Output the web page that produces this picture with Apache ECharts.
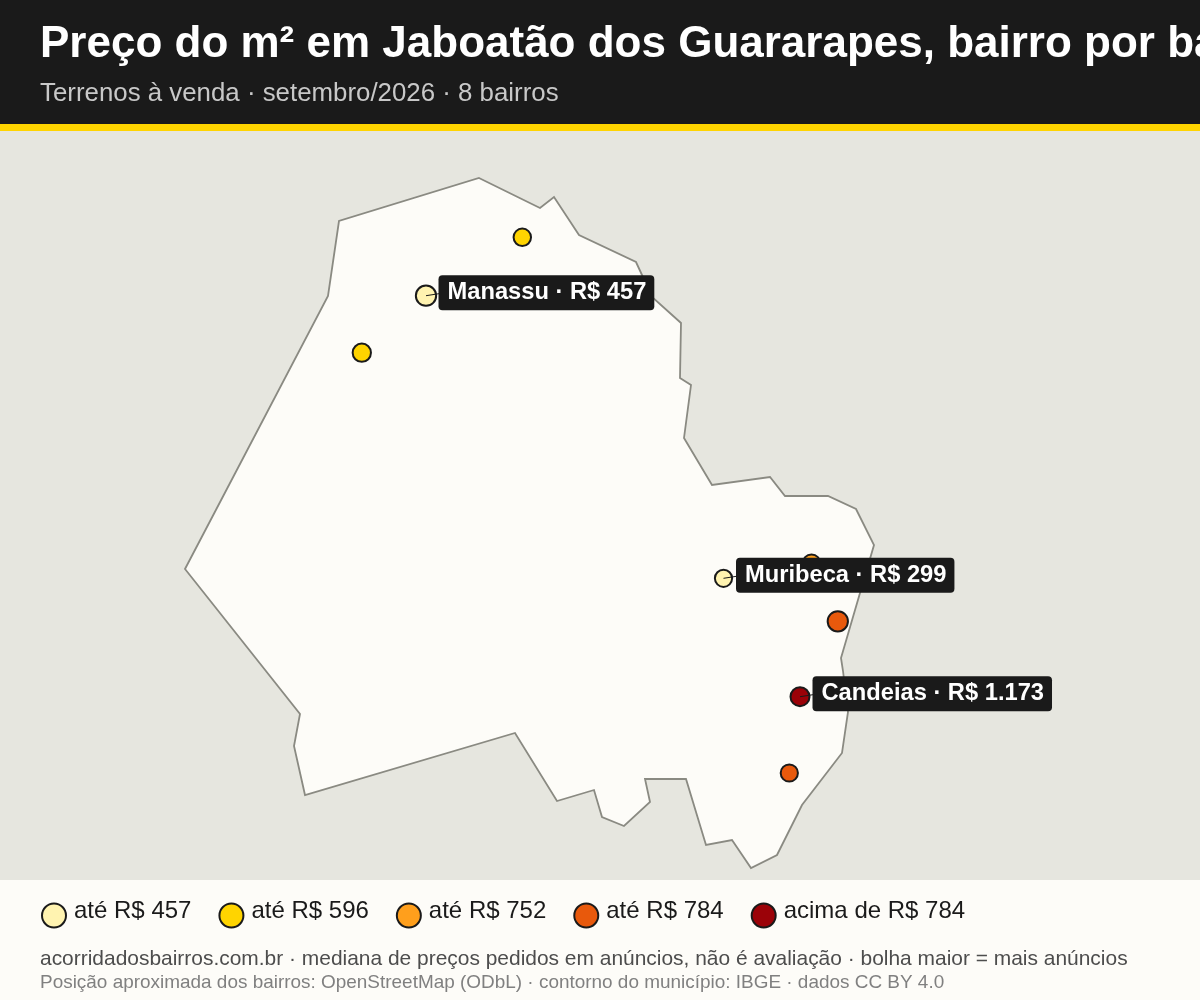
<!DOCTYPE html>
<html lang="pt-BR">

<head>
    <meta charset="UTF-8">
    <title>Preço do m² em Jaboatão dos Guararapes</title>
    <script src="https://cdn.jsdelivr.net/npm/echarts@6/dist/echarts.min.js"></script>
    <style>
        * {
            margin: 0;
            padding: 0;
        }

        #chart {
            width: 1200px;
            height: 1000px;
        }
    </style>
</head>

<body>
    <div id="chart"></div>
</body>
<script>
    // unidades do mapa: x para a direita, y para baixo
    var contornoX = [479, 540, 554, 579, 636, 642, 652, 681, 680, 691, 684, 712, 770, 785, 828, 856, 874, 841, 843, 848, 842, 802, 777, 751, 732, 706, 686, 645, 650, 624, 602, 594, 557, 515, 305, 294, 300, 185, 328, 339];
    var contornoY = [47, 77, 66, 104, 131, 144, 166, 192, 247, 254, 307, 354, 346, 365, 365, 378, 414, 527, 540, 581, 622, 674, 724, 737, 709, 714, 648, 648, 671, 695, 686, 659, 670, 602, 664, 615, 583, 438, 165, 90];

    var classes = ["até R$ 457", "até R$ 596", "até R$ 752", "até R$ 784", "acima de R$ 784"];
    var cores = ["#fff3b0", "#ffd400", "#ff9f1c", "#e8590c", "#9b0208"];

    // bairros de cada faixa; sem nome = sem rótulo na imagem
    var nomes = [["Manassu", "Muribeca"], ["", ""], [""], ["", ""], ["Candeias"]];
    var precos = [[457, 299], [null, null], [null], [null, null], [1173]];
    var bairroX = [[426, 723.5], [522.3, 361.8], [811.5], [837.8, 789.3], [800]];
    var bairroY = [[164.7, 447.3], [106.3, 221.7], [432.5], [490.3, 642], [565.7]];
    // anúncios estimados pelo tamanho da bolha
    var anuncios = [[28, 5], [6, 11], [9], [28, 5], [16]];

    function formataPreco(v) {
        return "R$ " + String(v).replace(/\B(?=(\d{3})+$)/g, ".");
    }

    function raio(n) {
        return 15 + Math.sqrt(n);
    }

    var myChart = echarts.init(document.getElementById("chart"), null, { renderer: "canvas" });

    var series = [{
        // contorno do município
        type: "custom",
        silent: true,
        z: 1,
        clip: false,
        data: [[0, 0]],
        renderItem: function (params, api) {
            var pontos = contornoX.map(function (x, i) {
                return api.coord([x, contornoY[i]]);
            });
            return {
                type: "polygon",
                shape: { points: pontos },
                style: { fill: "#fdfcf8", stroke: "#8a8a82", lineWidth: 1.8 }
            };
        }
    }];

    var comRotulo = [];
    classes.forEach(function (nome, c) {
        var dados = bairroX[c].map(function (x, i) {
            var item = { value: [x, bairroY[c][i]], symbolSize: raio(anuncios[c][i]) };
            if (nomes[c][i]) {
                comRotulo.push([x, bairroY[c][i]]);
                item.label = {
                    show: true,
                    position: "right",
                    distance: 11.5 - item.symbolSize / 2,
                    offset: [0, -3],
                    formatter: nomes[c][i] + " · " + formataPreco(precos[c][i]),
                    color: "#ffffff",
                    fontFamily: "Liberation Sans",
                    fontWeight: "bold",
                    fontSize: 23.7,
                    lineHeight: 23,
                    backgroundColor: "#1a1a1a",
                    borderRadius: 4,
                    padding: [2, 8, 10, 9]
                };
            }
            return item;
        });
        series.push({
            name: nome,
            type: "scatter",
            // faixas com rótulo por cima das outras
            z: nomes[c][0] ? 5 : 3,
            silent: true,
            itemStyle: { color: cores[c], borderColor: "#1a1a1a", borderWidth: 2, opacity: 1 },
            data: dados
        });
    });

    // fio do centro da bolha até o rótulo
    series.push({
        type: "custom",
        silent: true,
        z: 6,
        data: comRotulo,
        renderItem: function (params, api) {
            var p = api.coord([api.value(0), api.value(1)]);
            return {
                type: "line",
                shape: { x1: p[0], y1: p[1], x2: p[0] + 13, y2: p[1] - 2 },
                style: { stroke: "#1a1a1a", lineWidth: 1 }
            };
        }
    });

    var option = {
        animation: false,
        backgroundColor: "#fdfcf8",
        textStyle: { fontFamily: "Liberation Sans" },
        grid: { left: 0, right: 0, top: 131, height: 749, show: true, backgroundColor: "#e6e6df", borderWidth: 0 },
        xAxis: { type: "value", min: 0, max: 1200, show: false },
        yAxis: { type: "value", min: 0, max: 749, inverse: true, show: false },
        graphic: [
            { type: "rect", z: 0, shape: { x: 0, y: 0, width: 1200, height: 124 }, style: { fill: "#1a1a1a" } },
            { type: "rect", z: 0, shape: { x: 0, y: 124, width: 1200, height: 7 }, style: { fill: "#ffd400" } }
        ],
        title: [
            {
                text: "Preço do m² em Jaboatão dos Guararapes, bairro por bairro",
                left: 40, top: 23, padding: 0,
                textStyle: { color: "#ffffff", fontFamily: "Liberation Sans", fontWeight: "bold", fontSize: 44 }
            },
            {
                text: "Terrenos à venda · setembro/2026 · 8 bairros",
                left: 40, top: 81, padding: 0,
                textStyle: { color: "#c8c8c8", fontFamily: "Liberation Sans", fontWeight: "normal", fontSize: 25.85 }
            },
            {
                text: "acorridadosbairros.com.br · mediana de preços pedidos em anúncios, não é avaliação · bolha maior = mais anúncios",
                left: 40, top: 949, padding: 0,
                textStyle: { color: "#4d4d4d", fontFamily: "Liberation Sans", fontWeight: "normal", fontSize: 20.94 }
            },
            {
                text: "Posição aproximada dos bairros: OpenStreetMap (ODbL) · contorno do município: IBGE · dados CC BY 4.0",
                left: 40, top: 973, padding: 0,
                textStyle: { color: "#808080", fontFamily: "Liberation Sans", fontWeight: "normal", fontSize: 18.94 }
            }
        ],
        legend: {
            left: 41, top: 899, padding: 0,
            selectedMode: false,
            icon: "circle",
            itemWidth: 24, itemHeight: 24, itemGap: 27,
            data: classes,
            formatter: "{t|{name}}",
            textStyle: {
                rich: {
                    t: { color: "#1a1a1a", fontFamily: "Liberation Sans", fontSize: 24, padding: [0, 0, 9, 3] }
                }
            }
        },
        series: series
    };

    myChart.setOption(option);
</script>

</html>
